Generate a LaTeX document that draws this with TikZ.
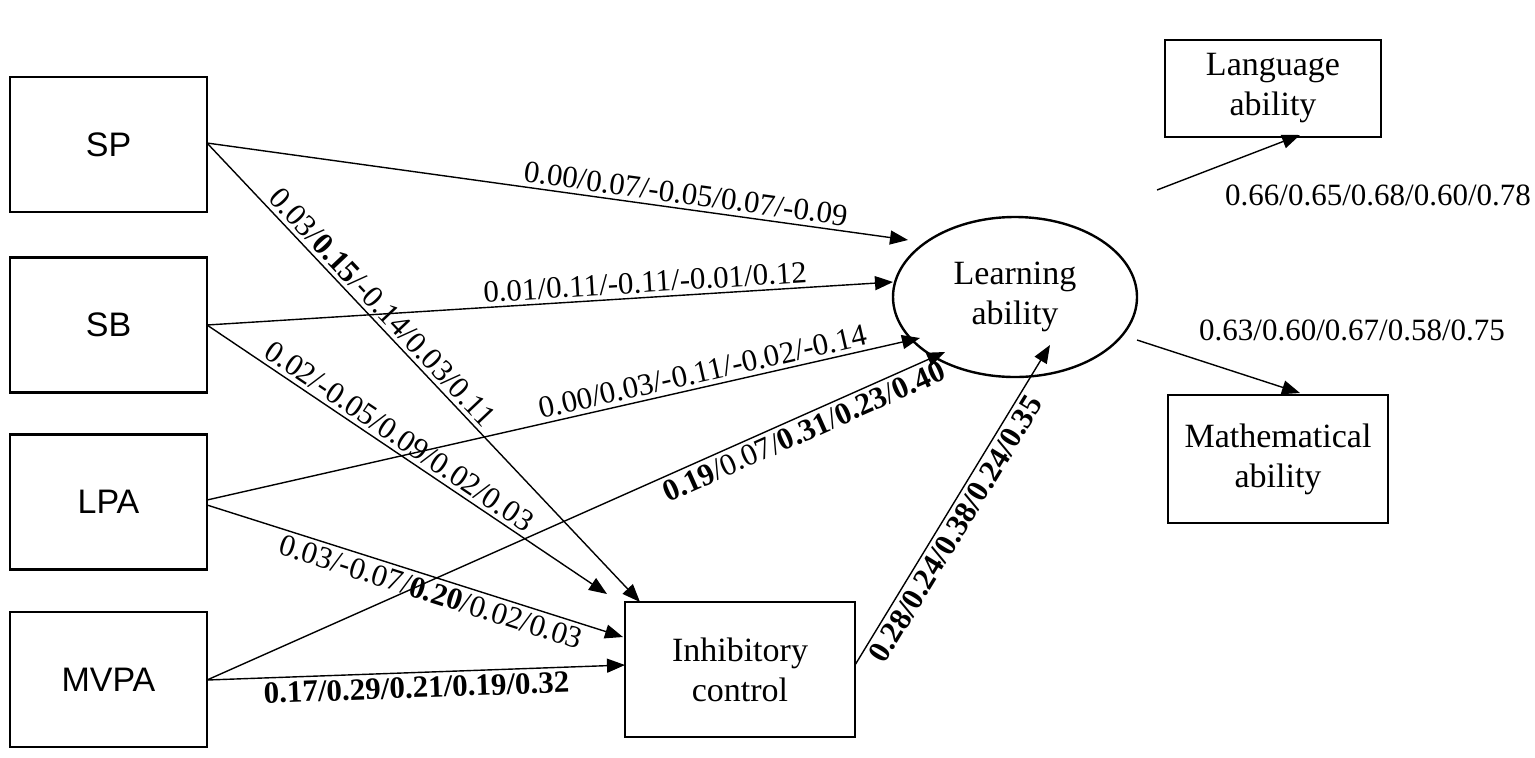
\documentclass[tikz,border=0pt]{standalone}
\usepackage{fontspec}
\setmainfont{Liberation Serif}
\newfontfamily\boxfont{Liberation Sans}
\usetikzlibrary{arrows.meta,shapes.geometric}
\begin{document}
\begin{tikzpicture}[x=0.5pt,y=-0.5pt,
  sbox/.style={draw,line width=1.2pt,minimum width=98.5pt,minimum height=67.5pt,font=\boxfont\fontsize{17}{20}\selectfont},
  tbox/.style={draw,line width=1.2pt,align=center,font=\fontsize{17}{20}\selectfont},
  arr/.style={-{Triangle[length=9pt,width=7pt]},line width=0.7pt},
  lab/.style={font=\fontsize{15.5}{18}\selectfont,sloped,inner sep=2pt}]
\useasboundingbox (0,0) rectangle (1535,757);
\node[sbox] (sp) at (108.5,144.5) {SP};
\node[sbox] (sb) at (108.5,325) {SB};
\node[sbox] (lpa) at (108.5,502) {LPA};
\node[sbox] (mvpa) at (108.5,679.5) {MVPA};
\node[tbox,minimum width=115pt,minimum height=67.5pt] (ic) at (740,669.5) {Inhibitory\\control};
\node[draw,ellipse,line width=1.2pt,minimum width=122pt,minimum height=80pt,align=center,font=\fontsize{17}{20}\selectfont] (la) at (1015,297) {Learning\\ability};
\node[tbox,minimum width=108pt,minimum height=48.5pt] (lang) at (1273,88.5) {Language\\ability};
\node[tbox,minimum width=110pt,minimum height=64pt] (math) at (1278,459) {Mathematical\\ability};
\coordinate (spo) at (207,143);
\coordinate (sbo) at (207,325);
\coordinate (lpo) at (207,500);
\coordinate (lpo2) at (207,505);
\coordinate (mvo) at (207,680);
\draw[arr] (spo) -- node[lab,above,pos=0.68] {0.00/0.07/-0.05/0.07/-0.09} (908,240);
\draw[arr] (spo) -- node[lab,above,pos=0.38] {0.03/\textbf{0.15}/-0.14/0.03/0.11} (640,602);
\draw[arr] (sbo) -- node[lab,above,pos=0.64] {0.01/0.11/-0.11/-0.01/0.12} (893,282);
\draw[arr] (sbo) -- node[lab,above,pos=0.46] {0.02/-0.05/0.09/0.02/0.03} (607,594);
\draw[arr] (lpo) -- node[lab,above,pos=0.7] {0.00/0.03/-0.11/-0.02/-0.14} (920,338);
\draw[arr] (lpo2) -- node[lab,below,pos=0.55] {0.03/-0.07/\textbf{0.20}/0.02/0.03} (623,637);
\draw[arr] (mvo) -- node[lab,below,pos=0.8] {\textbf{0.19}/0.07/\textbf{0.31}/\textbf{0.23}/\textbf{0.40}} (945,352);
\draw[arr] (mvo) -- node[lab,below,pos=0.5] {\textbf{0.17/0.29/0.21/0.19/0.32}} (625,665);
\draw[arr] (855,665) -- node[lab,below,pos=0.45] {\textbf{0.28/0.24/0.38/0.24/0.35}} (1050,345);
\draw[arr] (1157,190) -- (1300,135);
\draw[arr] (1137,340) -- (1300,393);
\node[font=\fontsize{15.5}{18}\selectfont] (l1) at (1378,195) {0.66/0.65/0.68/0.60/0.78};
\node[font=\fontsize{15.5}{18}\selectfont] (l2) at (1352,330) {0.63/0.60/0.67/0.58/0.75};
\end{tikzpicture}
\end{document}
